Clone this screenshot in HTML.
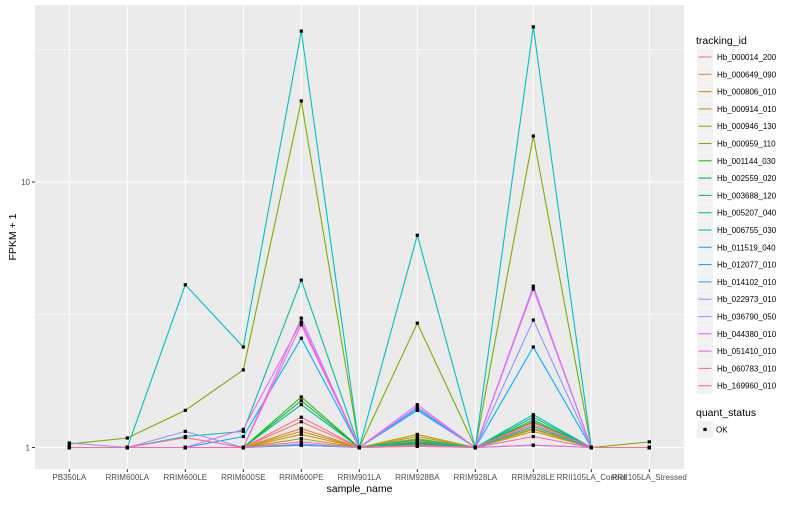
<!DOCTYPE html>
<html><head><meta charset="utf-8"><style>
body{margin:0;background:#fff;font-family:"Liberation Sans",sans-serif}
svg text{font-family:"Liberation Sans",sans-serif}
</style></head><body>
<svg id="chart" width="800" height="500" xmlns="http://www.w3.org/2000/svg"></svg>
<script>
const categories=["PB350LA","RRIM600LA","RRIM600LE","RRIM600SE","RRIM600PE","RRIM901LA","RRIM928BA","RRIM928LA","RRIM928LE","RRII105LA_Control","RRII105LA_Stressed"];
const seriesNames=["Hb_000014_200","Hb_000649_090","Hb_000806_010","Hb_000914_010","Hb_000946_130","Hb_000959_110","Hb_001144_030","Hb_002559_020","Hb_003688_120","Hb_005207_040","Hb_006755_030","Hb_011519_040","Hb_012077_010","Hb_014102_010","Hb_022973_010","Hb_036790_050","Hb_044380_010","Hb_051410_010","Hb_060783_010","Hb_169960_010"];
const colors=["#F8766D","#EA8331","#D89000","#C09B00","#A3A500","#7CAE00","#39B600","#00BB4E","#00BF7D","#00C1A3","#00BFC4","#00BAE0","#00B0F6","#35A2FF","#9590FF","#C77CFF","#E76BF3","#FA62DB","#FF62BC","#FF6C91"];
const s01=[1,1,1,1,1.25,1,1.05,1,1.22,1,1];
const s02=[1,1,1,1,1.18,1,1.06,1,1.2,1,1];
const s03=[1,1,1,1,1.12,1,1.1,1,1.17,1,1];
const s04=[1,1,1,1,1.15,1,1.12,1,1.15,1,1];
const s05=[1,1,1,1,1.08,1,1.08,1,1.18,1,1];
const s06=[1.03,1.086,1.38,1.96,20.2,1,2.94,1,14.9,1,1.05];
const s07=[1,1,1,1,1.55,1,1.04,1,1.25,1,1];
const s08=[1,1,1,1,1.5,1,1.03,1,1.27,1,1];
const s09=[1,1,1,1,1.45,1,1.05,1,1.3,1,1];
const s10=[1,1,1.1,1.15,4.27,1,1.07,1,1.33,1,1];
const s11=[1,1,4.1,2.39,37,1,6.3,1,38.4,1,1];
const s12=[1,1,1,1,1.02,1,1.02,1,1.2,1,1];
const s13=[1,1,1,1.1,2.58,1,1.4,1,2.39,1,1];
const s14=[1,1,1,1,1.02,1,1.38,1,1.02,1,1];
const s15=[1.04,1,1.15,1,1.03,1,1.02,1,3.02,1,1];
const s16=[1,1,1,1,3.07,1,1.42,1,4.05,1,1];
const s17=[1,1,1,1.17,2.97,1,1.45,1,3.95,1,1];
const s18=[1,1,1,1,2.9,1,1.01,1,1.02,1,1];
const s19=[1,1,1,1,1.05,1,1.02,1,1.1,1,1];
const s20=[1,1,1.09,1,1.3,1,1.01,1,1.24,1,1];
const seriesValues=[s01,s02,s03,s04,s05,s06,s07,s08,s09,s10,s11,s12,s13,s14,s15,s16,s17,s18,s19,s20];
const yTicks=[1,10];
const yTickLabels=["1","10"];
const yMinor=[Math.sqrt(10),Math.sqrt(1000)];

const NS="http://www.w3.org/2000/svg";
const svg=document.getElementById('chart');
const P={l:35,r:684,t:5,b:469};
function xScale(i){return 69.3+i*58;}
function yScale(v){return 447.5-Math.log10(v)*265.5;}
function mk(tag,attrs,parent){const e=document.createElementNS(NS,tag);for(const k in attrs)e.setAttribute(k,attrs[k]);(parent||svg).appendChild(e);return e;}

const panel=mk('rect',{x:P.l,y:P.t,width:P.r-P.l,height:P.b-P.t,fill:'#EBEBEB'});


yMinor.forEach(v=>{const g=mk('line',{x1:P.l,x2:P.r,y1:yScale(v),y2:yScale(v),stroke:'#fff','stroke-width':0.5});

});
yTicks.forEach((v,i)=>{const y=yScale(v);
const g=mk('line',{x1:P.l,x2:P.r,y1:y,y2:y,stroke:'#fff','stroke-width':1});


const tk=mk('line',{x1:P.l-3,x2:P.l,y1:y,y2:y,stroke:'#333','stroke-width':1});


const t=mk('text',{x:P.l-5,y:y+3,'text-anchor':'end','font-size':8,fill:'#4D4D4D'});t.textContent=yTickLabels[i];

});
categories.forEach((c,i)=>{const x=xScale(i);
const g=mk('line',{x1:x,x2:x,y1:P.t,y2:P.b,stroke:'#fff','stroke-width':1});


const tk=mk('line',{x1:x,x2:x,y1:P.b,y2:P.b+3,stroke:'#333','stroke-width':1});


const t=mk('text',{x:x,y:480,'text-anchor':'middle','font-size':8,fill:'#4D4D4D'});t.textContent=c;

});
seriesValues.forEach((vals,si)=>{
const pl=mk('polyline',{points:vals.map((v,i)=>xScale(i)+','+yScale(v)).join(' '),fill:'none',stroke:colors[si],'stroke-width':1.1});

});
seriesValues.forEach((vals,si)=>{vals.forEach((v,i)=>{
const r=mk('rect',{x:xScale(i)-1.6,y:yScale(v)-1.6,width:3.2,height:3.2,fill:'#000'});

});});
const xt=mk('text',{x:(P.l+P.r)/2,y:492,'text-anchor':'middle','font-size':10.5,fill:'#000'});xt.textContent='sample_name';


const yt=mk('text',{x:0,y:0,'text-anchor':'middle','font-size':10.5,fill:'#000',transform:'translate(16,237) rotate(-90)'});yt.textContent='FPKM + 1';


const lt=mk('text',{x:696,y:44,'font-size':10.5,fill:'#000'});lt.textContent='tracking_id';


seriesNames.forEach((n,i)=>{const cy=57+i*17.3;
const bx=mk('rect',{x:697,y:cy-8.4,width:16,height:16.8,fill:'#F2F2F2'});


const ln=mk('line',{x1:698.5,x2:711.5,y1:cy,y2:cy,stroke:colors[i],'stroke-width':1.1});


const t=mk('text',{x:717,y:cy+3,'font-size':8,fill:'#000'});t.textContent=n;

});
const qt=mk('text',{x:696,y:416,'font-size':10.5,fill:'#000'});qt.textContent='quant_status';


const qb=mk('rect',{x:697,y:421,width:16,height:16.8,fill:'#F2F2F2'});


const qp=mk('rect',{x:703.4,y:427.8,width:3.2,height:3.2,fill:'#000'});


const qtt=mk('text',{x:716,y:432.5,'font-size':8,fill:'#000'});qtt.textContent='OK';


</script>
</body></html>
